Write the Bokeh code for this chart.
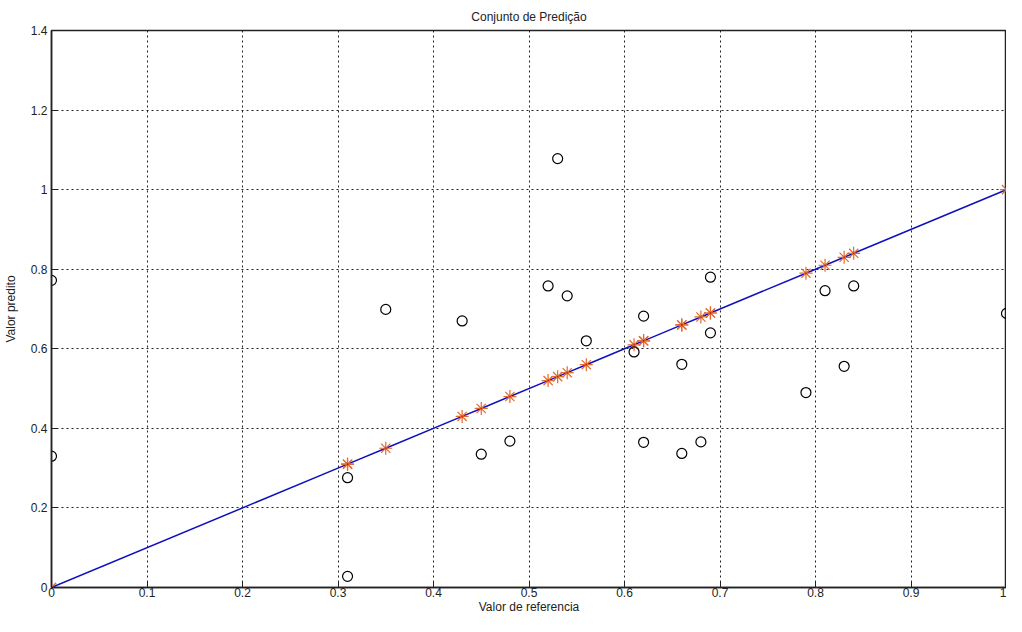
from bokeh.plotting import figure
from bokeh.models import ColumnDataSource, FixedTicker, Range1d
from bokeh.embed import file_html
from bokeh.resources import INLINE

referencia = [0.0, 0.0, 0.31, 0.31, 0.35, 0.43, 0.45, 0.48, 0.52, 0.53, 0.54, 0.56, 0.61,
              0.62, 0.62, 0.66, 0.66, 0.68, 0.69, 0.69, 0.79, 0.81, 0.83, 0.84, 1.0]
predito = [0.772, 0.33, 0.276, 0.028, 0.699, 0.67, 0.335, 0.368, 0.758, 1.078, 0.733, 0.62, 0.592,
           0.682, 0.365, 0.561, 0.337, 0.366, 0.64, 0.78, 0.49, 0.746, 0.556, 0.758, 0.689]
x_ticks = [0, 0.1, 0.2, 0.3, 0.4, 0.5, 0.6, 0.7, 0.8, 0.9, 1]
y_ticks = [0, 0.2, 0.4, 0.6, 0.8, 1, 1.2, 1.4]

FONT = "Liberation Sans Narrow, Liberation Sans, Arial"

src = ColumnDataSource(dict(ref=referencia, pred=predito))
linha = sorted(set(referencia))
src_line = ColumnDataSource(dict(x=linha, y=linha))

p = figure(width=1006, height=616, output_backend="svg", toolbar_location=None,
           x_range=Range1d(0, 1), y_range=Range1d(0, 1.4),
           title="Conjunto de Predição", x_axis_label="Valor de referencia",
           y_axis_label="Valor predito",
           min_border_left=39, min_border_right=0, min_border_top=23, min_border_bottom=4)

p.title.align = "center"
p.title.text_font = FONT
p.title.text_font_size = "12px"
p.title.text_font_style = "normal"
p.title.text_color = "#222222"
p.title.standoff = 14

p.outline_line_color = "#222222"
p.outline_line_width = 1.5
p.background_fill_color = "white"
p.border_fill_color = "white"

p.xaxis.ticker = FixedTicker(ticks=x_ticks)
p.yaxis.ticker = FixedTicker(ticks=y_ticks)
for ax in (p.xaxis[0], p.yaxis[0]):
    ax.major_tick_in = 6
    ax.major_tick_out = 0
    ax.minor_tick_in = 0
    ax.minor_tick_out = 0
    ax.axis_line_color = "#222222"
    ax.axis_line_width = 1.5
    ax.major_tick_line_color = "#222222"
    ax.major_label_text_font = FONT
    ax.major_label_text_font_size = "12px"
    ax.major_label_text_color = "#222222"
    ax.axis_label_text_font = FONT
    ax.axis_label_text_font_size = "12px"
    ax.axis_label_text_font_style = "normal"
    ax.axis_label_text_color = "#222222"
    ax.major_label_standoff = 0
    ax.axis_label_standoff = 0
p.yaxis.major_label_standoff = 4
p.yaxis.axis_label_standoff = 10

p.xgrid.grid_line_color = "#222222"
p.ygrid.grid_line_color = "#222222"
p.xgrid.grid_line_dash = "2 3"
p.ygrid.grid_line_dash = "2 3"
p.xgrid.grid_line_width = 1
p.ygrid.grid_line_width = 1

p.line("x", "y", source=src_line, line_color="#1010c0", line_width=1.5)
p.scatter("ref", "ref", source=src, marker="asterisk", size=13, line_color="#e06a30", line_width=1.2)
p.scatter("ref", "ref", source=src, marker="dot", size=6, line_color="#d01010", fill_color="#d01010")
p.scatter("ref", "pred", source=src, marker="circle", size=10, line_color="black",
          fill_color=None, line_width=1.2)

open("out.html", "w").write(file_html(p, INLINE))
